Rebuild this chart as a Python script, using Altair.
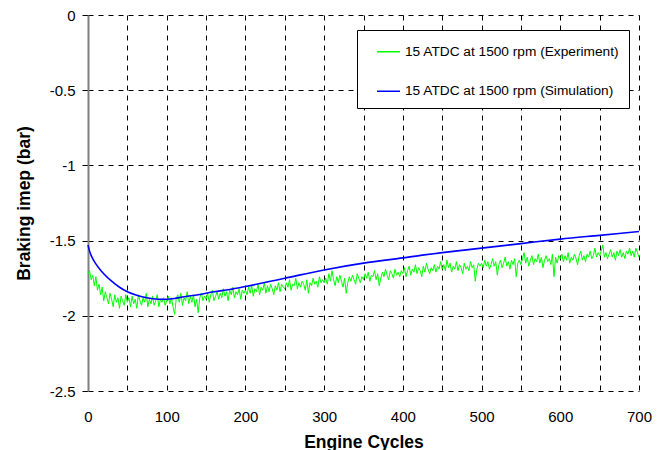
import altair as alt
import pandas as pd

# Simulation curve (engine cycle, braking imep)
sim_x = [0, 2, 5, 10, 15, 20, 30, 40, 50, 60, 70, 80, 90, 100, 110, 120, 140, 160, 180, 200,
         250, 300, 350, 400, 450, 500, 550, 600, 650, 700]
sim_y = [-1.53, -1.57, -1.61, -1.655, -1.69, -1.72, -1.77, -1.81, -1.84, -1.86, -1.875, -1.885, -1.89, -1.89,
         -1.885, -1.875, -1.86, -1.84, -1.825, -1.805, -1.75, -1.695, -1.65, -1.615, -1.58, -1.55, -1.52,
         -1.49, -1.465, -1.44]

# Experiment, read every 2 cycles
exp_y = [
    -1.72, -1.70, -1.76, -1.73, -1.80, -1.74, -1.83, -1.79, -1.86, -1.81, -1.90, -1.84, -1.88, -1.92, -1.85, -1.89, -1.94, -1.86, -1.91, -1.88, -1.95, -1.87, -1.90, -1.93, -1.86,
    -1.91, -1.88, -1.94, -1.87, -1.92, -1.89, -1.95, -1.86, -1.90, -1.93, -1.88, -1.91, -1.85, -1.94, -1.89, -1.92, -1.87, -1.93, -1.90, -1.86, -1.94, -1.89, -1.91, -1.88, -1.93,
    -1.90, -1.87, -1.92, -1.88, -1.94, -1.99, -1.89, -1.86, -1.91, -1.85, -1.93, -1.88, -1.90, -1.84, -1.92, -1.87, -1.91, -1.86, -1.94, -1.89, -1.98, -1.88, -1.85, -1.90, -1.87,
    -1.89, -1.85, -1.91, -1.86, -1.83, -1.90, -1.87, -1.84, -1.89, -1.85, -1.88, -1.82, -1.87, -1.84, -1.90, -1.83, -1.86, -1.81, -1.88, -1.84, -1.86, -1.82, -1.89, -1.83, -1.85,
    -1.83, -1.86, -1.81, -1.85, -1.80, -1.87, -1.82, -1.84, -1.79, -1.86, -1.81, -1.83, -1.78, -1.85, -1.80, -1.84, -1.79, -1.82, -1.86, -1.80, -1.83, -1.78, -1.84, -1.79, -1.81,
    -1.82, -1.78, -1.81, -1.76, -1.83, -1.79, -1.80, -1.75, -1.82, -1.78, -1.81, -1.77, -1.79, -1.83, -1.76, -1.85, -1.78, -1.80, -1.75, -1.79, -1.77, -1.81, -1.74, -1.78, -1.76,
    -1.78, -1.75, -1.79, -1.72, -1.77, -1.70, -1.76, -1.80, -1.74, -1.78, -1.73, -1.77, -1.81, -1.75, -1.85, -1.78, -1.74, -1.77, -1.73, -1.76, -1.79, -1.72, -1.75, -1.78, -1.74,
    -1.76, -1.72, -1.75, -1.71, -1.77, -1.73, -1.74, -1.70, -1.76, -1.72, -1.80, -1.75, -1.71, -1.74, -1.69, -1.73, -1.76, -1.70, -1.72, -1.75, -1.69, -1.73, -1.71, -1.74, -1.70,
    -1.72, -1.68, -1.74, -1.70, -1.67, -1.73, -1.69, -1.71, -1.66, -1.72, -1.68, -1.70, -1.74, -1.67, -1.71, -1.65, -1.69, -1.72, -1.68, -1.70, -1.66, -1.71, -1.67, -1.69, -1.64,
    -1.69, -1.66, -1.70, -1.63, -1.68, -1.65, -1.71, -1.67, -1.69, -1.64, -1.70, -1.66, -1.68, -1.72, -1.65, -1.69, -1.67, -1.70, -1.64, -1.68, -1.66, -1.77, -1.69, -1.65, -1.67,
    -1.65, -1.68, -1.63, -1.67, -1.64, -1.69, -1.66, -1.62, -1.67, -1.64, -1.73, -1.66, -1.63, -1.68, -1.65, -1.61, -1.67, -1.64, -1.69, -1.63, -1.66, -1.62, -1.74, -1.65, -1.63,
    -1.66, -1.62, -1.58, -1.65, -1.61, -1.67, -1.63, -1.60, -1.66, -1.62, -1.64, -1.59, -1.65, -1.61, -1.68, -1.63, -1.60, -1.64, -1.62, -1.66, -1.59, -1.74, -1.61, -1.65, -1.60,
    -1.62, -1.59, -1.64, -1.60, -1.63, -1.58, -1.65, -1.61, -1.63, -1.59, -1.62, -1.66, -1.60, -1.57, -1.63, -1.60, -1.64, -1.59, -1.61, -1.57, -1.62, -1.60, -1.55, -1.61, -1.58,
    -1.60, -1.57, -1.53, -1.61, -1.58, -1.62, -1.59, -1.56, -1.61, -1.58, -1.63, -1.57, -1.60, -1.56, -1.61, -1.58, -1.62, -1.57, -1.59, -1.55, -1.60, -1.57, -1.61, -1.55, -1.58,
    -1.61,
]
exp_x = list(range(0, 2 * len(exp_y), 2))

EXP = "15 ATDC at 1500 rpm (Experiment)"
SIM = "15 ATDC at 1500 rpm (Simulation)"

df_exp = pd.DataFrame({"cycle": exp_x, "imep": exp_y, "series": EXP})
df_sim = pd.DataFrame({"cycle": sim_x, "imep": sim_y, "series": SIM})

FONT = "Liberation Sans"

x_enc = alt.X("cycle:Q", scale=alt.Scale(domain=[0, 700], nice=False),
              axis=alt.Axis(values=list(range(0, 701, 50)),
                            labelExpr="datum.value % 100 == 0 ? datum.label : ''",
                            title="Engine Cycles", ticks=False, tickSize=0, domain=False,
                            grid=True, gridColor="black", gridDash=[5, 5], gridWidth=1, gridOpacity=1,
                            labelFont=FONT, labelFontSize=15, labelColor="black",
                            labelBaseline="alphabetic", labelPadding=30, labelFlush=False,
                            titleFont=FONT, titleFontSize=17.5, titleFontWeight="bold",
                            titleColor="black", titleBaseline="alphabetic", titleY=56))
y_enc = alt.Y("imep:Q", scale=alt.Scale(domain=[-2.5, 0], nice=False),
              axis=alt.Axis(values=[0, -0.5, -1, -1.5, -2, -2.5], format="~g",
                            labelExpr="replace(datum.label, '\u2212', '-')",
                            title="Braking imep (bar)",
                            domain=True, domainColor="#808080", domainWidth=2,
                            ticks=True, tickSize=6, tickColor="black", tickWidth=1,
                            grid=True, gridColor="black", gridDash=[5, 5], gridWidth=1, gridOpacity=1,
                            labelFont=FONT, labelFontSize=15, labelColor="black", labelPadding=7,
                            labelFlush=False,
                            titleFont=FONT, titleFontSize=17.5, titleFontWeight="bold",
                            titleColor="black", titleBaseline="alphabetic", titleAngle=-90,
                            titleX=-59, titleY=188, titleAlign="center"))

color = alt.Color("series:N",
                  scale=alt.Scale(domain=[EXP, SIM], range=["#00FF00", "#0000FF"]),
                  legend=alt.Legend(title=None, orient="none", legendX=269, legendY=15,
                                    symbolType="stroke", symbolSize=529, symbolStrokeWidth=1.5,
                                    symbolOffset=9.75, labelOffset=4, padding=9.25, rowPadding=19.5,
                                    labelFont=FONT, labelFontSize=13.7, labelColor="black",
                                    labelLimit=400,
                                    labelExpr="datum.label + '\u00a0\u00a0\u00a0\u00a0\u00a0'",
                                    fillColor="white", strokeColor="black", cornerRadius=0))

exp_line = alt.Chart(df_exp).mark_line(strokeWidth=1, interpolate="linear").encode(
    x=x_enc, y=y_enc, color=color)
sim_line = alt.Chart(df_sim).mark_line(strokeWidth=1.6, interpolate="monotone").encode(
    x=x_enc, y=y_enc, color=color)

chart = alt.layer(exp_line, sim_line).properties(
    width=551, height=376,
    autosize=alt.AutoSizeParams(type="none"),
    padding={"left": 88, "top": 15, "right": 28, "bottom": 59},
    background="white",
).configure_view(stroke=None)

chart.save("out.html", embed_options={"renderer": "svg", "actions": False})
